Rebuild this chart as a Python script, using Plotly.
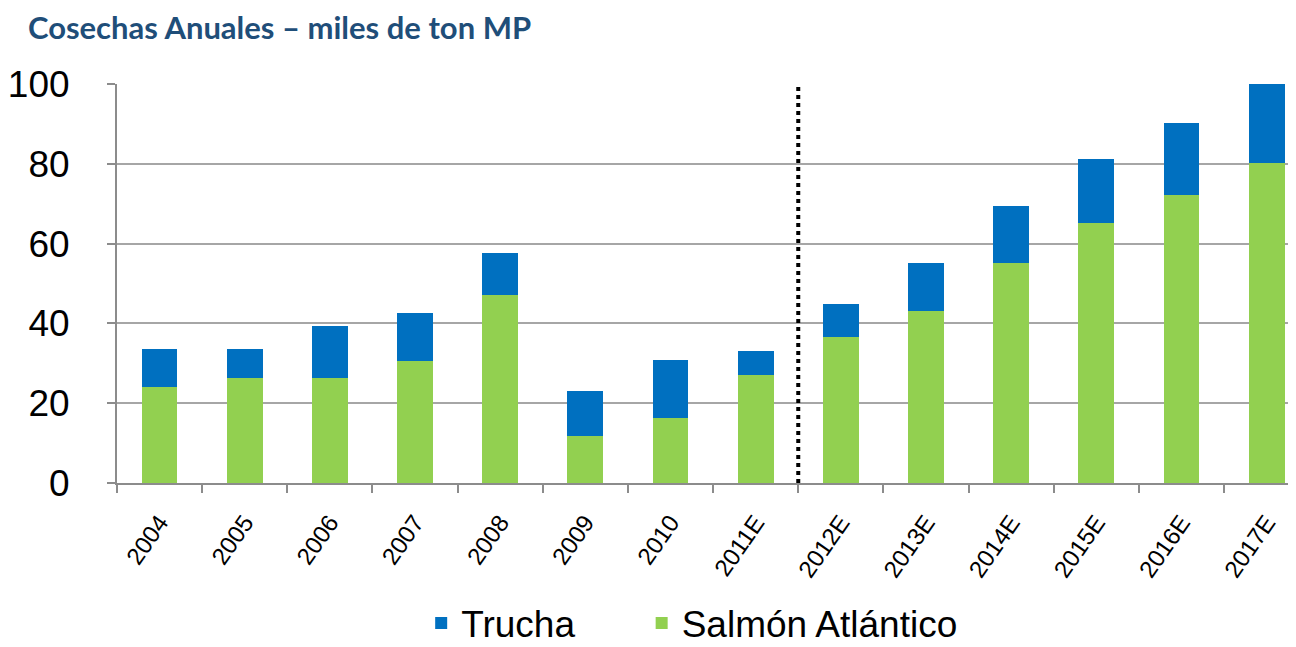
import plotly.graph_objects as go

categories = ["2004", "2005", "2006", "2007", "2008", "2009", "2010", "2011E",
              "2012E", "2013E", "2014E", "2015E", "2016E", "2017E"]
salmon = [24.1, 26.3, 26.3, 30.6, 47.1, 11.8, 16.3, 27.1, 36.6, 43.1, 55.1, 65.2, 72.2, 80.2]
total = [33.6, 33.6, 39.3, 42.6, 57.6, 23.1, 30.8, 33.1, 44.9, 55.1, 69.4, 81.2, 90.2, 100.0]
trucha = [round(t - s, 1) for t, s in zip(total, salmon)]
y_ticks = [0, 20, 40, 60, 80, 100]

fig = go.Figure()
fig.add_trace(go.Bar(x=categories, y=salmon, name="Salmón Atlántico",
                     marker=dict(color="#92D050", line=dict(width=0)), width=0.42,
                     legend="legend2"))
fig.add_trace(go.Bar(x=categories, y=trucha, name="Trucha",
                     marker=dict(color="#0070C0", line=dict(width=0)), width=0.42,
                     legend="legend"))

fig.add_shape(type="line", xref="x", yref="y", x0=7.5, x1=7.5, y0=0, y1=99.5,
              line=dict(color="black", width=4, dash="dot"))

fig.update_layout(
    barmode="stack",
    width=1288, height=639,
    margin=dict(l=109, r=0, t=76, b=164, autoexpand=False),
    plot_bgcolor="white", paper_bgcolor="white",
    font=dict(family="Liberation Sans, Arial, sans-serif", color="black"),
    title=dict(text="<b>Cosechas Anuales – miles de ton MP</b>",
               font=dict(family="Lato, sans-serif", size=31, color="#1F4E79"),
               x=0.0155, xanchor="left", xref="container",
               y=0.968, yanchor="middle", pad=dict(l=0, r=0, t=0, b=0)),
    xaxis=dict(type="category", range=[-0.5, 13.345], tickangle=-55,
               tickfont=dict(size=24), showline=True, linecolor="#8c8c8c", linewidth=2,
               ticks="outside", ticklen=8, tickcolor="#8c8c8c", tickwidth=2,
               tickson="boundaries", showgrid=False, automargin=False,
               ticklabelstandoff=14),
    yaxis=dict(range=[0, 100], tickvals=y_ticks, tickfont=dict(size=37),
               showgrid=True, gridcolor="#a6a6a6", gridwidth=2,
               showline=True, linecolor="#8c8c8c", linewidth=2,
               ticks="outside", ticklen=8, tickcolor="#8c8c8c", tickwidth=2,
               zeroline=False, automargin=False, ticklabelstandoff=30),
    legend=dict(orientation="h", x=0.258, xanchor="left",
                y=-0.352, yanchor="middle", font=dict(size=37)),
    legend2=dict(orientation="h", x=0.445, xanchor="left",
                 y=-0.352, yanchor="middle", font=dict(size=37)),
    showlegend=True,
)

fig.write_html("out.html")
